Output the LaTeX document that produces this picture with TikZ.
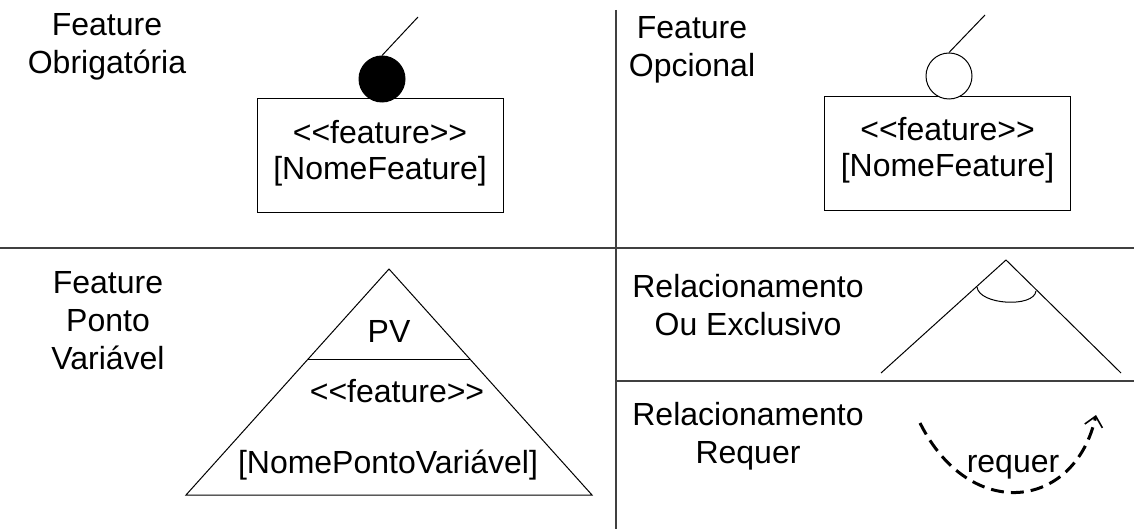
\documentclass[tikz,border=0pt]{standalone}
\usepackage{fontspec}
\setmainfont{Liberation Sans}
\usetikzlibrary{arrows.meta}
\begin{document}
\begin{tikzpicture}[x=0.5pt,y=-0.5pt,
  txt/.style={font=\fontsize{16}{19}\selectfont, align=center, inner sep=0pt, anchor=base},
  boxtxt/.style={font=\fontsize{16}{18}\selectfont, align=center, inner sep=0pt, anchor=base},
  divider/.style={line width=0.8pt, draw=black!75},
  thinline/.style={line width=0.5pt, draw=black},
  featbox/.style={draw=black, line width=0.5pt, rectangle, inner sep=0pt,
    minimum width=123pt, minimum height=57pt},
  knob/.style={circle, draw=black, line width=0.5pt, inner sep=0pt, minimum size=23pt},
  reqline/.style={line width=1.5pt, dash pattern=on 6.5pt off 3.5pt,
    -{Straight Barb[length=5pt,width=9pt,line width=0.8pt]}}
]
\useasboundingbox (0,0) rectangle (1134,529);

% quadrant dividers
\coordinate (vtop) at (616,10);
\coordinate (vbot) at (616,529);
\coordinate (hl) at (0,248);
\coordinate (hr) at (1134,248);
\coordinate (hm) at (616,381);
\coordinate (hme) at (1134,381);
\draw[divider] (vtop) -- (vbot);
\draw[divider] (hl) -- (hr);
\draw[divider] (hm) -- (hme);

% mandatory feature (multi-line nodes sit on their last baseline)
\node[txt] (lblObr) at (107,74) {Feature\\Obrigatória};
\node[featbox] (boxObr) at (380,156) {};
\node[boxtxt] (txtObr) at (380,180) {<{}<feature>{}>\\{}[NomeFeature]};
\node[knob, fill=black] (knobObr) at (382,79) {};
\coordinate (endObr) at (418,17);
\draw[thinline] (knobObr.north) -- (endObr);

% optional feature
\node[txt] (lblOpc) at (692,77) {Feature\\Opcional};
\node[featbox] (boxOpc) at (947.5,153.5) {};
\node[boxtxt] (txtOpc) at (947.5,177) {<{}<feature>{}>\\{}[NomeFeature]};
\node[knob, fill=white] (knobOpc) at (949,76) {};
\coordinate (endOpc) at (985,15);
\draw[thinline] (knobOpc.north) -- (endOpc);

% variation point feature
\node[txt] (lblPV) at (108,369) {Feature\\Ponto\\Variável};
\coordinate (pvTop) at (389,269);
\coordinate (pvL) at (186,495);
\coordinate (pvR) at (592,495);
\coordinate (pvML) at (308,359);
\coordinate (pvMR) at (470,359);
\draw[thinline] (pvTop) -- (pvR) -- (pvL) -- cycle;
\draw[thinline] (pvML) -- (pvMR);
\node[txt] (txtPV) at (389,342) {PV};
\node[txt] (txtPVst) at (397,402) {<{}<feature>{}>};
\node[txt] (txtPVname) at (388,473) {{}[NomePontoVariável]};

% exclusive-or relationship
\node[txt] (lblXor) at (748,335) {Relacionamento\\Ou Exclusivo};
\coordinate (xTop) at (1006,260);
\coordinate (xL) at (881,373);
\coordinate (xR) at (1121,373);
\coordinate (xaL) at (977,287);
\coordinate (xaR) at (1036,291);
\draw[thinline] (xL) -- (xTop) -- (xR);
\draw[thinline] (xaL) .. controls (979,305) and (1034,308) .. (xaR);

% requires relationship
\node[txt] (lblReq) at (748,463) {Relacionamento\\Requer};
\coordinate (rqA) at (920,423);
\coordinate (rqB) at (1096,415);
\draw[reqline] (rqA) .. controls (970,523) and (1075,510) .. (rqB);
\node[txt] (txtReq) at (1013,472) {requer};
\end{tikzpicture}
\end{document}
